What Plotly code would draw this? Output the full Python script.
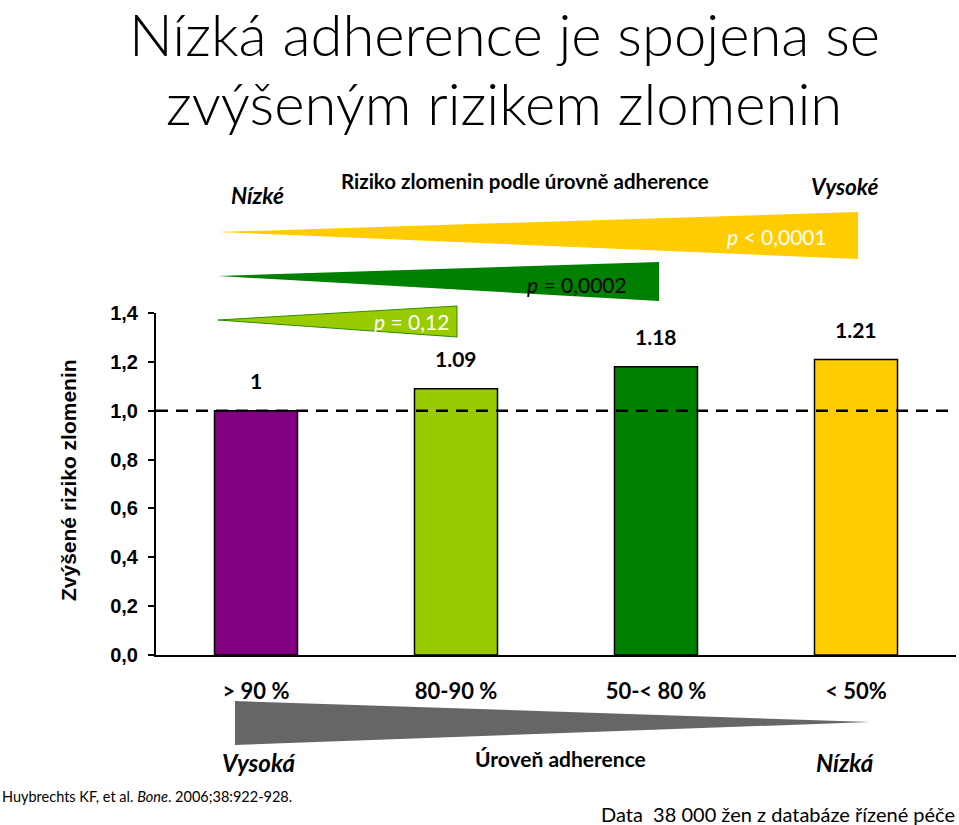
import plotly.graph_objects as go

# data
categories = ["> 90 %", "80-90 %", "50-< 80 %", "< 50%"]
risk = [1.00, 1.09, 1.18, 1.21]
risk_labels = ["1", "1.09", "1.18", "1.21"]
bar_colors = ["#800080", "#99CC00", "#008000", "#FFCC00"]
y_ticks = [0, 0.2, 0.4, 0.6, 0.8, 1.0, 1.2, 1.4]

CAL = "Lato, Open Sans, sans-serif"
ARI = "Liberation Sans, Arial, sans-serif"

x_pos = list(range(len(categories)))

fig = go.Figure()
fig.add_trace(go.Bar(x=x_pos, y=risk, width=0.415, marker=dict(color=bar_colors, line=dict(color="black", width=1.5)),
                     hoverinfo="skip"))

# bar value labels
for xi, v, t in zip(x_pos, risk, risk_labels):
    fig.add_annotation(x=xi, y=v, text="<b>%s</b>" % t, showarrow=False, yshift=30,
                       font=dict(family=CAL, size=21, color="black"))

# reference line at 1
fig.add_shape(type="line", xref="paper", x0=0, x1=1, yref="y", y0=1.0, y1=1.0,
              line=dict(color="black", width=2.5, dash="12px,8px"), layer="above")


def px_x(p):
    return (p - 156) / 800.0


def px_y(p):
    return (655 - p) / 342.0


def tri(pts, color, line_color=None):
    path = "M " + " L ".join("%f,%f" % (px_x(a), px_y(b)) for a, b in pts) + " Z"
    fig.add_shape(type="path", path=path, xref="paper", yref="paper", fillcolor=color,
                  line=dict(color=line_color or color, width=1 if line_color else 0))


# wedges (p-values)
tri([(218, 232), (858, 212), (858, 259)], "#FFCC00")
tri([(218, 276), (659, 262), (659, 301)], "#008000")
tri([(218, 320), (457, 306), (457, 337)], "#99CC00", "#2E8B00")
tri([(235, 701), (235, 745), (870, 722)], "#666666")

def note(px, py, text, size, color="black", family=CAL, xanchor="center", weight=None):
    f = dict(family=family, size=size, color=color)
    if weight:
        f["weight"] = weight
    fig.add_annotation(x=px_x(px), y=px_y(py), xref="paper", yref="paper", text=text, showarrow=False,
                       xanchor=xanchor, yanchor="middle", font=f)

note(777, 236, "<i>p</i> < 0,0001", 21, "white")
note(577, 284, "<i>p</i> = 0,0002", 21, "black")
note(411, 321, "<i>p</i> = 0,12", 21, "white")

note(257, 195, "<b><i>Nízké</i></b>", 22.5)
note(525, 181, "<b>Riziko zlomenin podle úrovně adherence</b>", 20.5)
note(845, 186, "<b><i>Vysoké</i></b>", 22.5)

note(258, 762, "<b><i>Vysoká</i></b>", 24)
note(560, 758, "<b>Úroveň adherence</b>", 21)
note(845, 762, "<b><i>Nízká</i></b>", 24)

note(0, 796, "Huybrechts KF, et al. <i>Bone</i>. 2006;38:922-928.", 14.5, xanchor="left")
note(957, 814, "Data  38 000 žen z databáze řízené péče", 20, xanchor="right")

# title
note(504, 33, "Nízká adherence je spojena se", 58, weight=300)
note(504, 102, "zvýšeným rizikem zlomenin", 58, weight=300)

# y axis title
fig.add_annotation(x=px_x(68), y=px_y(480), xref="paper", yref="paper", text="<b>Zvýšené riziko zlomenin</b>",
                   textangle=-90, showarrow=False, xanchor="center", yanchor="middle",
                   font=dict(family=ARI, size=21, color="black"))

fig.update_xaxes(range=[-0.5, 3.5], tickvals=x_pos, ticktext=["<b>%s</b>" % c for c in categories],
                 showline=True, linecolor="black", linewidth=2, showgrid=False, zeroline=False,
                 ticks="", ticklabelstandoff=16, tickfont=dict(family=CAL, size=22, color="black"))
fig.update_yaxes(range=[0, 1.4], tickvals=y_ticks, tickformat=".1f", showline=True, linecolor="black",
                 linewidth=2, showgrid=False, zeroline=False, ticks="outside", ticklen=6, tickwidth=2,
                 tickcolor="black", ticklabelstandoff=6,
                 tickfont=dict(family=ARI, size=20, color="black", weight="bold"))

fig.update_layout(width=959, height=825, margin=dict(l=156, r=3, t=313, b=170), plot_bgcolor="white",
                  paper_bgcolor="white", showlegend=False, separators=", ")

fig.write_html("out.html", config={"displayModeBar": False}, post_script="document.body.style.margin='0';")
